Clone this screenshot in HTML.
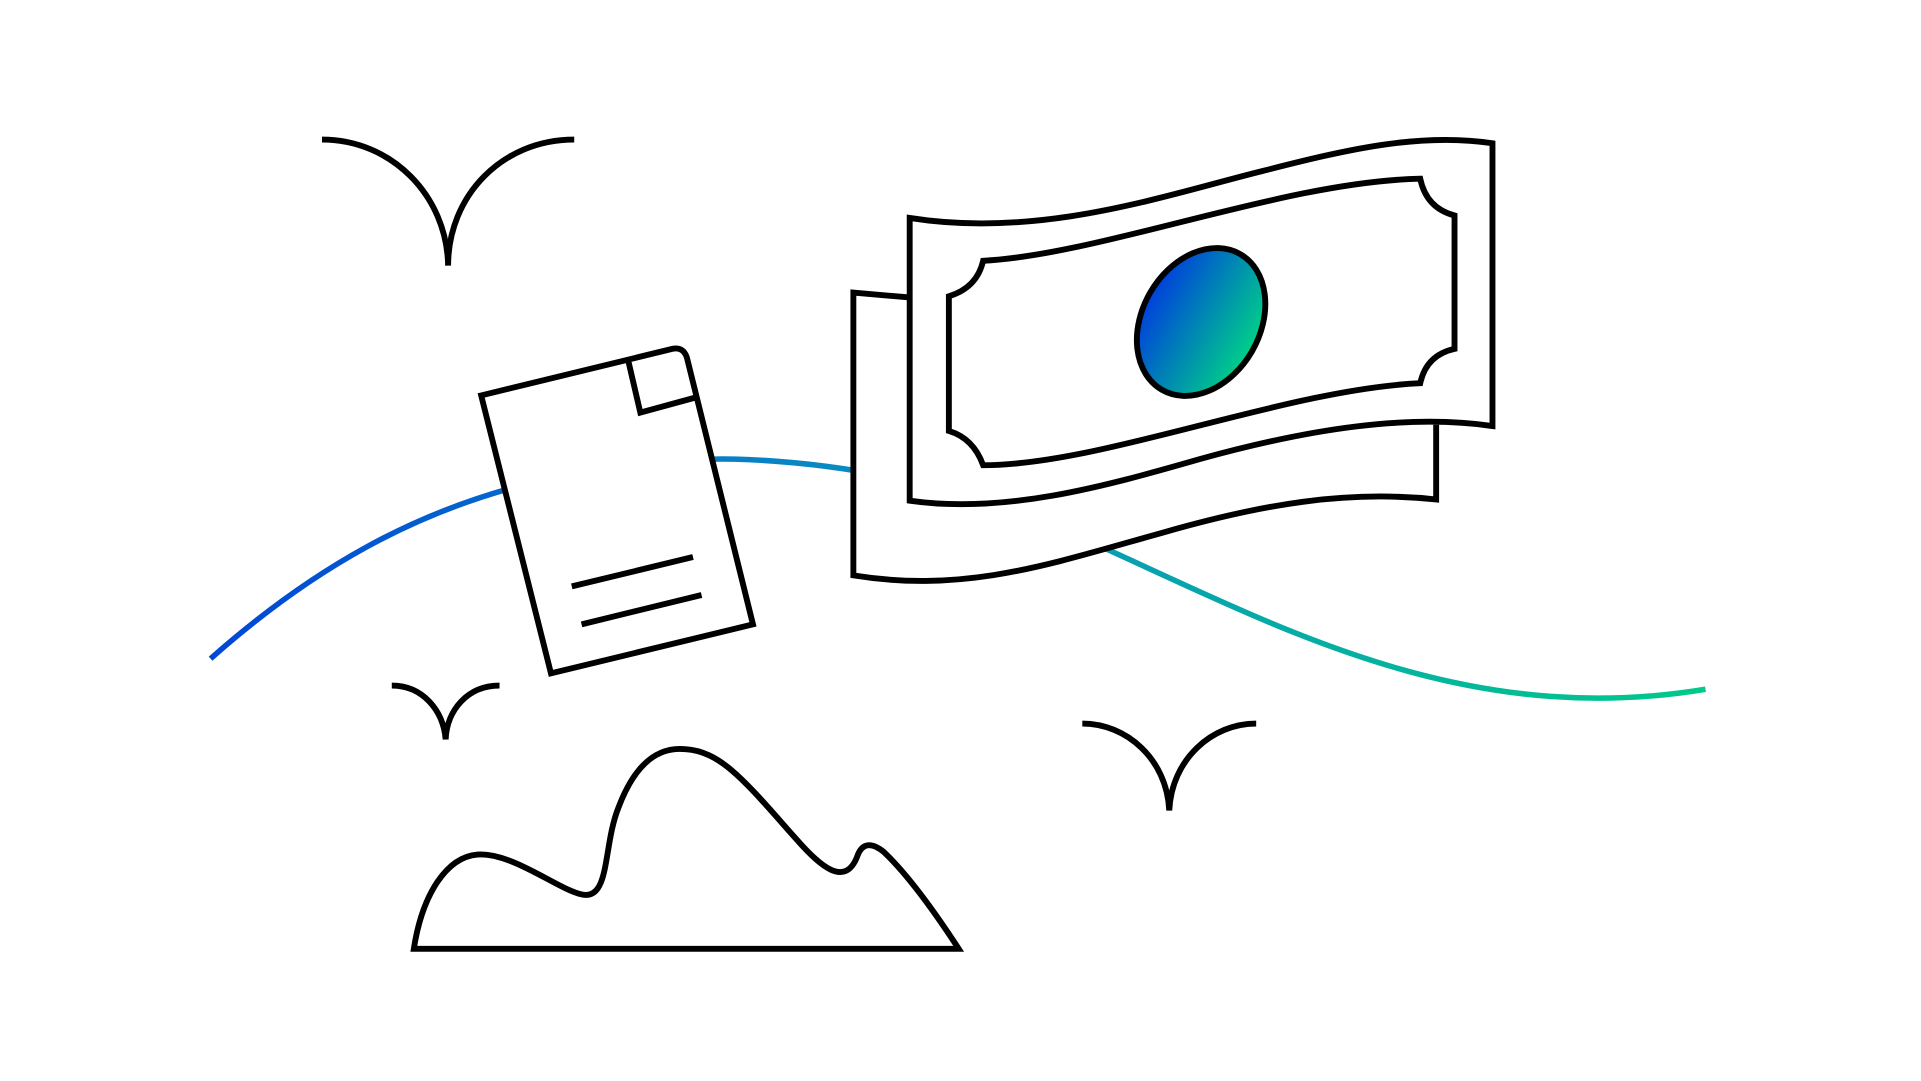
<!DOCTYPE html>
<html><head><meta charset="utf-8"><style>
html,body{margin:0;padding:0;background:#fff;}
svg{display:block;}
</style></head><body>
<svg width="1921" height="1081" viewBox="0 0 1569 883" preserveAspectRatio="none" xmlns="http://www.w3.org/2000/svg">
<defs>
<linearGradient id="lg" gradientUnits="userSpaceOnUse" x1="172" y1="0" x2="1393" y2="0">
<stop offset="0" stop-color="#0047d6"/>
<stop offset="0.45" stop-color="#0a8fc0"/>
<stop offset="1" stop-color="#00c98a"/>
</linearGradient>
<linearGradient id="eg" x1="0" y1="0" x2="1" y2="0">
<stop offset="0" stop-color="#0040dc"/>
<stop offset="1" stop-color="#00d088"/>
</linearGradient>
</defs>
<g fill="none" stroke-linecap="butt" stroke-linejoin="miter">
<path d="M172,538 C260,460 340,420 420,398 C480,382 540,374 600,375 C700,378 800,400 907,450 C1050,515 1200,595 1393,563" stroke="url(#lg)" stroke-width="4.5"/>
<g stroke="#000" stroke-width="4.8">
<path d="M263,114 C320,114 365,160 366,217 C366,160 410,114 469,114"/>
<path d="M320,560 C345,560 362,580 364,604 C365,580 382,560 408,560"/>
<path d="M884,591 C920,591 953,620 955,662 C957,620 990,591 1026,591"/>
<path d="M338,775 C345,730 365,700 390,698 C420,696 460,730 478,731 C498,732 493,690 505,660 C520,620 540,610 560,612 C590,614 610,640 650,685 C670,708 690,725 700,700 C704,688 712,688 722,696 C745,718 770,755 783,775 Z"/>
<path d="M393,323 L549,285 Q558,283 561,292 L615,510 L450,550 Z" fill="#fff"/>
<path d="M513,294 L523,337 L567,325"/>
<path d="M467,479 L566,455 M475,510 L573,486"/>
<path d="M743,243 L697,239 L697,470 C790,485 860,460 950,435 C1030,412 1100,400 1173,408 L1173,340 L743,340 Z" fill="#fff" stroke="none"/>
<path d="M743,243 L697,239 L697,470 C790,485 860,460 950,435 C1030,412 1100,400 1173,408 L1173,347"/>
<path d="M743,178 C850,195 950,160 1030,140 C1100,122 1160,108 1219,117 L1219,348 C1150,338 1070,350 980,375 C900,398 820,420 743,409 Z" fill="#fff"/>
<path d="M803,213 C900,208 1050,148 1160,146 Q1165,170 1188,176 L1188,285 Q1165,290 1160,313 C1050,318 900,380 803,380 Q795,358 775,352 L775,242 Q798,235 803,213 Z"/>
<ellipse cx="981" cy="263" rx="48" ry="64" transform="rotate(30 981 263)" fill="url(#eg)"/>
</g>
</g>
</svg>
</body></html>
